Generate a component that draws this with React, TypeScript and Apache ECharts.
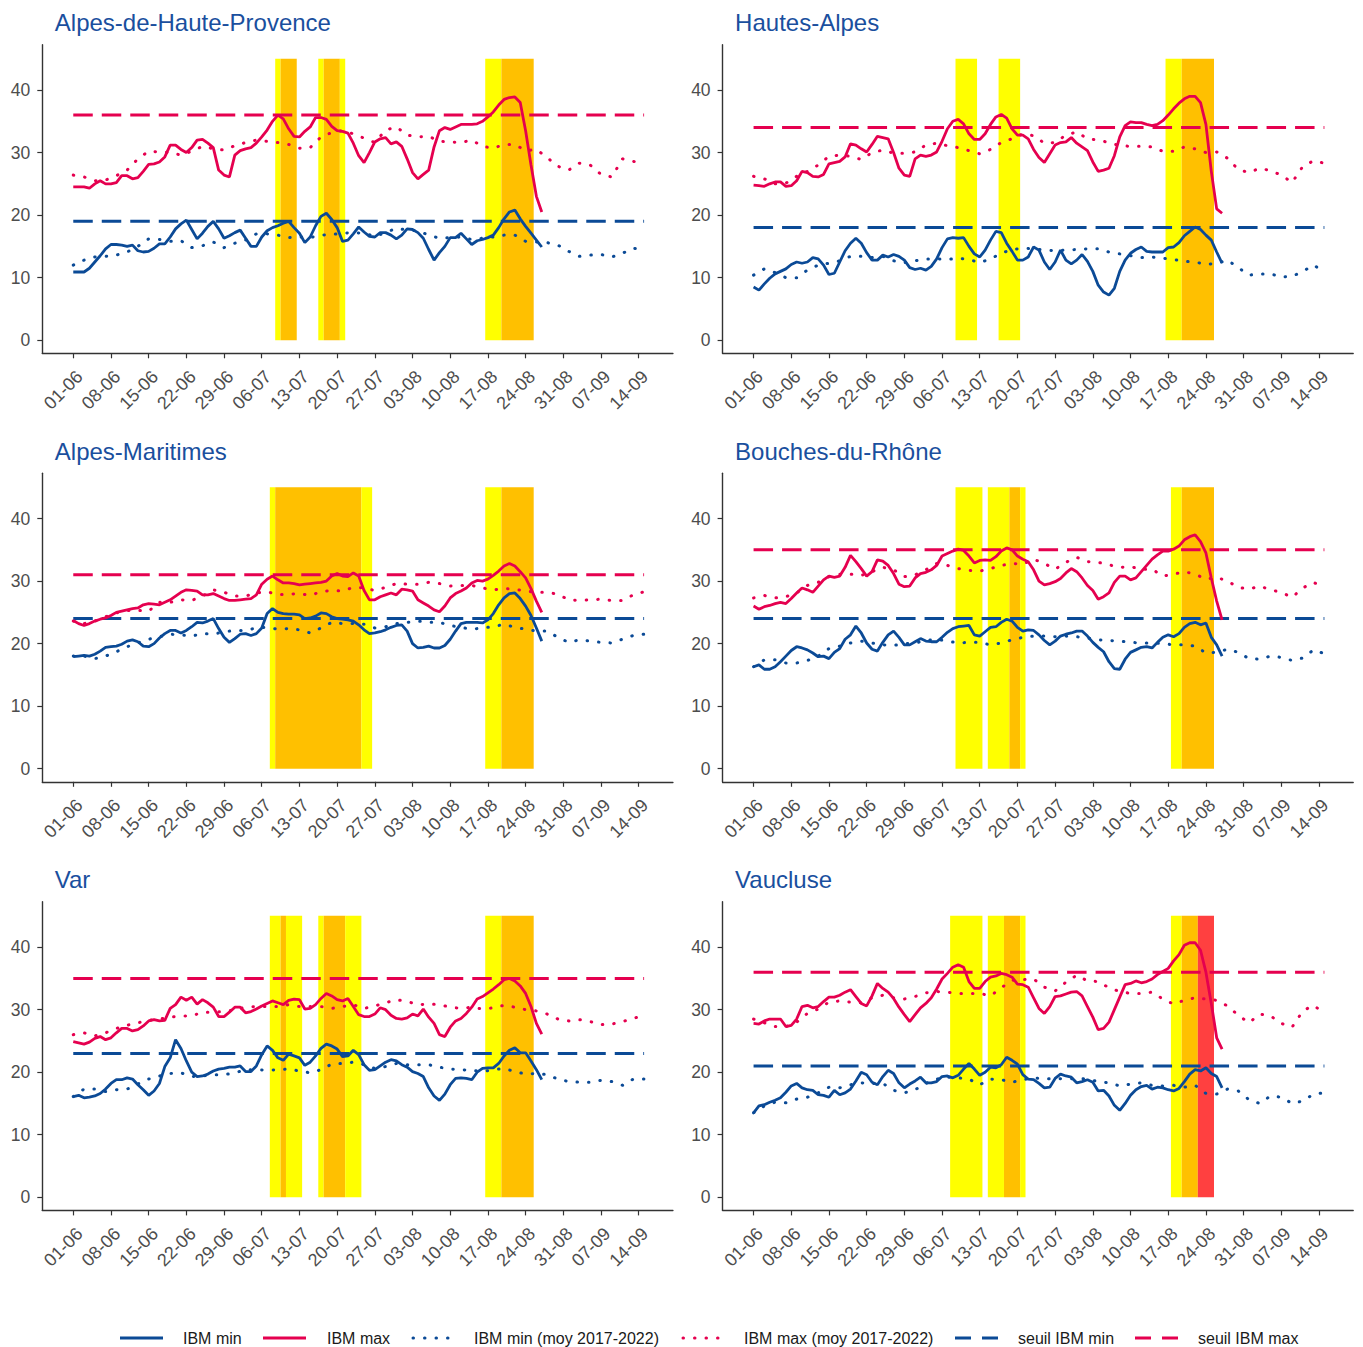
import React, { useEffect, useRef } from "react";
import * as echarts from "echarts";

// ---------- DATA ----------
const departments = ["Alpes-de-Haute-Provence", "Hautes-Alpes", "Alpes-Maritimes", "Bouches-du-Rhône", "Var", "Vaucluse"];
const tickDays = [0, 7, 14, 21, 28, 35, 42, 49, 56, 63, 70, 77, 84, 91, 98, 105];
const tickLabels = ["01-06", "08-06", "15-06", "22-06", "29-06", "06-07", "13-07", "20-07", "27-07", "03-08", "10-08", "17-08", "24-08", "31-08", "07-09", "14-09"];
const yTicks = [0, 10, 20, 30, 40];
const seuilMin = [19, 18, 24, 24, 23, 21];
const seuilMax = [36, 34, 31, 35, 35, 36];
const avgStepDays = 2; // averages read every 2 days, from 01-06
const lastDay = 106; // 15-09
const bandTop = 45;

// IBM daily values from 01-06 (day 0) to 27-08 (day 87)
const ibmMax04 = [
  24.5, 24.5, 24.5, 24.3, 25, 25.5, 25, 25, 25.2, 26.3,
  26.3, 25.8, 26, 27, 28.1, 28.2, 28.5, 29.3, 31.2, 31.2,
  30.5, 30, 30.8, 32, 32.1, 31.5, 30.8, 27.2, 26.4, 26.1,
  29.6, 30.3, 30.6, 30.8, 31.5, 32.5, 33.6, 35, 36, 35.4,
  33.8, 32.6, 32.5, 33.4, 34.1, 35.6, 35.6, 35.3, 34.2, 33.5,
  33.4, 33.1, 31.5, 29.5, 28.4, 30, 31.7, 32.2, 32.4, 31.4,
  31.7, 31, 29, 26.8, 25.8, 26.5, 27.2, 30.9, 33.5, 34,
  33.7, 34.1, 34.5, 34.5, 34.5, 34.6, 35, 35.7, 36.5, 37.6,
  38.5, 38.8, 38.9, 38, 33.5, 28, 23, 20.5,
];
const ibmMin04 = [
  10.9, 10.9, 10.9, 11.5, 12.5, 13.5, 14.6, 15.3, 15.3, 15.2,
  15, 15.2, 14.3, 14.1, 14.2, 14.7, 15.4, 15.4, 16.5, 17.8,
  18.6, 19.2, 17.7, 16.2, 17.1, 18.2, 19, 17.8, 16.3, 16.7,
  17.2, 17.6, 16.3, 15, 15, 16.5, 17.5, 18, 18.3, 18.7,
  19, 18, 17.1, 15.6, 16.5, 18.3, 19.8, 20.3, 19.3, 18,
  15.8, 16, 17, 18.1, 17.3, 16.6, 16.5, 17.2, 17.2, 16.8,
  16.2, 16.8, 17.8, 17.7, 17.2, 16.3, 14.5, 12.8, 14, 15,
  16.4, 16.4, 17.1, 16.2, 15.3, 15.9, 16.1, 16.4, 16.8, 18,
  19.4, 20.5, 20.8, 19.4, 18.2, 17.1, 16, 14.9,
];
const moyMax04 = [26.4, 26.1, 25.5, 25.6, 26.3, 27.2, 29, 30.2, 30.1, 30, 29.6, 30.2, 31, 30.6, 30.4, 31.1, 31.6, 32, 31.8, 31.6, 31.3, 30.7, 30.8, 32.5, 33.2, 33.5, 33, 32.3, 31.6, 33.6, 34.1, 32.8, 32.5, 32.6, 31.8, 31.7, 31.6, 32, 31, 30.7, 31.3, 31.3, 30.3, 30.5, 29.2, 27.8, 27.2, 28.3, 28, 26.5, 26.1, 29, 28.6, 28.1];
const moyMin04 = [12, 12.8, 13.3, 13.4, 13.6, 14.1, 15, 16.2, 16.1, 15.8, 15.9, 14.8, 15.1, 15.7, 14.8, 15.5, 16, 17, 17, 16.8, 16.4, 16.5, 16.4, 16.8, 16.9, 17.1, 17.2, 17.1, 16.6, 17.2, 17.9, 17.6, 17.5, 16.8, 16.3, 16.4, 16.5, 16.1, 16.3, 16.5, 16.8, 16.8, 15.8, 15.7, 15.6, 15.2, 14.2, 13.4, 13.6, 13.7, 13.3, 13.9, 14.7, 14.5];

const ibmMax05 = [
  24.8, 24.7, 24.6, 25, 25.3, 25.3, 24.6, 24.7, 25.5, 27,
  26.8, 26.2, 26.1, 26.5, 28.2, 28.4, 28.6, 29.3, 31.4, 31.2,
  30.6, 30.1, 31.3, 32.6, 32.4, 32.2, 30, 27.5, 26.4, 26.2,
  29, 29.6, 29.4, 29.6, 30.1, 31.8, 33.8, 35, 35.3, 34.6,
  33, 32.1, 32.1, 33, 34.5, 35.7, 36.1, 35.5, 33.8, 32.8,
  32.8, 32.2, 30.5, 29.2, 28.4, 29.8, 31.2, 31.6, 31.7, 32.4,
  31.5, 30.9, 30.3, 28.5, 27, 27.2, 27.5, 29.5, 32.5, 34.3,
  34.9, 34.8, 34.8, 34.5, 34.3, 34.5, 35.1, 36, 37, 37.9,
  38.6, 39, 39, 38, 34.5, 27, 21, 20.3,
];
const ibmMin05 = [
  8.5, 8, 9, 9.9, 10.6, 11, 11.4, 12.1, 12.5, 12.3,
  12.5, 13.2, 13, 12, 10.5, 10.7, 12.5, 14.3, 15.5, 16.3,
  15.5, 14, 12.8, 12.8, 13.6, 13.3, 13.7, 13.4, 12.8, 11.6,
  11.3, 11.5, 11.2, 11.8, 13, 14.8, 16.2, 16.4, 16.3, 16.4,
  15, 13.8, 13.3, 14.4, 16, 17.4, 17.2, 15.5, 14.2, 12.8,
  12.8, 13.3, 14.9, 14.4, 12.5, 11.3, 12.5, 14.4, 12.8, 12.2,
  12.8, 13.7, 12.6, 11, 8.8, 7.7, 7.2, 8.3, 11, 12.8,
  13.9, 14.5, 14.9, 14.2, 14.1, 14.1, 14.1, 14.8, 14.9, 15.6,
  16.7, 17.4, 18.1, 17.7, 16.8, 16, 14.1, 12.3,
];
const moyMax05 = [26.2, 25.8, 25, 25.1, 26.2, 27, 28, 29.4, 29.6, 29.4, 28.9, 30, 30.4, 29.9, 29.9, 30.1, 31.2, 31.5, 31.1, 30.8, 30.3, 29.8, 30.5, 31.6, 32.2, 33, 32.7, 31.5, 31.6, 32.8, 33.3, 32.2, 32, 31.6, 31.1, 31, 31, 30.9, 30.2, 30.2, 30.9, 30.6, 30, 30.1, 29.1, 27.3, 26.8, 27.5, 27.1, 26.4, 25.2, 27.8, 28.7, 28.3];
const moyMin05 = [10.4, 11.4, 10.8, 10, 10, 11.2, 12, 12.3, 12.7, 13.4, 13.4, 13.2, 13.4, 12.7, 12.4, 12.7, 13, 13, 12.9, 13.1, 12.9, 12.4, 13, 13.9, 14.5, 14.7, 14.6, 14.4, 14.3, 14.4, 14.5, 14.6, 14.6, 14.1, 13.8, 13.5, 13.2, 13.3, 13.1, 12.9, 12.6, 12.5, 12.1, 12.3, 12.8, 11.6, 10.4, 10.6, 10.6, 10.1, 10.2, 11, 12, 10.9];

const ibmMax06 = [
  23.7, 23.2, 22.9, 23.2, 23.6, 23.9, 24.1, 24.5, 25, 25.2,
  25.4, 25.6, 25.7, 26.2, 26.4, 26.3, 26.2, 26.6, 27, 27.6,
  28.2, 28.6, 28.5, 28.4, 27.8, 27.8, 28, 27.6, 27.2, 26.9,
  26.9, 27, 27.1, 27.2, 27.8, 29.5, 30.3, 30.8, 30.2, 29.7,
  29.7, 29.6, 29.4, 29.5, 29.6, 29.7, 29.8, 30, 30.8, 31.2,
  30.8, 30.7, 31.3, 30.8, 28.5, 27, 27, 27.5, 27.8, 28.1,
  27.8, 28.7, 28.6, 28.4, 27, 26.5, 26, 25.4, 25.1, 26,
  27.3, 28, 28.4, 28.9, 29.7, 30.1, 30, 30.3, 30.9, 31.6,
  32.4, 32.8, 32.4, 31.5, 30.5, 28.8, 26.8, 25,
];
const ibmMin06 = [
  17.9, 18, 18.1, 18, 18.3, 18.8, 19.4, 19.5, 19.6, 19.9,
  20.4, 20.6, 20.3, 19.6, 19.5, 20, 20.9, 21.6, 22.1, 22.1,
  21.7, 22.1, 22.7, 23.4, 23.3, 23.6, 24, 22.4, 21, 20.2,
  20.8, 21.5, 21.6, 21.3, 21.6, 22.5, 24.8, 25.6, 25, 24.8,
  24.7, 24.7, 24.6, 24, 24.1, 24.4, 24.9, 24.8, 24.3, 24,
  23.9, 23.8, 23.6, 23, 22.2, 21.6, 21.7, 21.9, 22.2, 22.6,
  22.9, 23, 22, 20, 19.3, 19.4, 19.6, 19.3, 19.3, 19.7,
  20.7, 22, 23.2, 23.4, 23.4, 23.4, 23.3, 23.8, 24.8, 26.2,
  27.3, 28, 28.1, 27.2, 26, 24.5, 22.5, 20.4,
];
const moyMax06 = [23.6, 23.2, 23.6, 24.3, 24.9, 25.3, 25.3, 25.2, 26.6, 26.6, 27, 26.9, 27.6, 28.6, 28.2, 27.6, 27.6, 28.1, 28.3, 27.8, 27.9, 28, 27.7, 28.3, 28.5, 28.4, 29, 28.9, 28.5, 29, 29.6, 29.5, 29.5, 29.8, 29.6, 29.2, 29.3, 29.3, 28.9, 28.6, 28.8, 28.7, 28.4, 28.2, 28.2, 27.9, 27, 26.9, 27, 27.1, 26.9, 26.9, 27.8, 28.3];
const moyMin06 = [18, 18, 17.6, 18, 18.7, 19.5, 20.1, 20.7, 21.1, 21.5, 21.4, 21.2, 21.6, 21.5, 21.9, 22.1, 22.1, 22.5, 22.6, 22.3, 22.4, 22.2, 21.7, 22.5, 23.4, 23.2, 23.2, 23.1, 22.5, 22.7, 23.2, 23.4, 23.6, 23.4, 23.4, 22.9, 22.6, 22.3, 22.5, 22.7, 23.1, 22.6, 22.3, 22, 22, 21, 20.2, 20.6, 20.4, 20.2, 20.1, 20.7, 21.3, 21.5];

const ibmMax13 = [
  26, 25.5, 25.9, 26.1, 26.4, 26.6, 26.4, 27.2, 28.1, 28.9,
  28.6, 28.2, 29.2, 30.2, 30.8, 30.6, 30.8, 32.2, 34.1, 33.1,
  32, 30.8, 31.5, 33.4, 33.2, 32.5, 31.2, 29.5, 29.1, 29.2,
  30.5, 31.2, 31.4, 31.8, 32.5, 34, 34.4, 34.8, 35.1, 34.9,
  34, 32.9, 33.3, 33.4, 33.3, 33.9, 34.8, 35.3, 35, 34,
  33.5, 33.1, 31.8, 30, 29.4, 29.6, 29.9, 30.4, 31.3, 32,
  31.5, 30.5, 29.3, 28.5, 27.1, 27.5, 28.1, 29.8, 30.8, 30.8,
  30.2, 30.5, 31.5, 32.5, 33.5, 34.2, 34.8, 34.8, 35.1, 35.6,
  36.6, 37.1, 37.4, 36.3, 34.5, 30.5, 26.8, 23.8,
];
const ibmMin13 = [
  16.3, 16.6, 15.9, 15.9, 16.3, 17.1, 18, 18.9, 19.5, 19.3,
  19, 18.5, 17.9, 18, 17.6, 18.6, 19.2, 20.7, 21.4, 22.8,
  21.7, 20.1, 19.1, 18.8, 20.2, 21.4, 22, 21, 19.8, 19.8,
  20.3, 20.8, 20.4, 20.3, 20.3, 21, 21.8, 22.4, 22.7, 22.8,
  22.9, 21.4, 21.2, 21.9, 22.6, 22.7, 23.4, 23.9, 23.6, 22.6,
  22, 22.2, 22.1, 21.4, 20.5, 19.8, 20.4, 21.2, 21.5, 21.7,
  22, 22, 21.2, 20.2, 19.4, 18.7, 17.1, 16, 15.9, 17.5,
  18.6, 19, 19.4, 19.5, 19.3, 20.2, 21, 21.4, 21.1, 21.6,
  22.6, 23.2, 23.4, 23, 23.3, 21, 19.8, 18,
];
const moyMax13 = [27.3, 27.7, 27.3, 27.5, 28.1, 29.3, 29.8, 30.7, 31.1, 31.1, 30.9, 31.5, 32.2, 31.8, 30.7, 31, 31.8, 32.8, 32.5, 32, 31.7, 31.6, 32, 32.5, 32.8, 32.7, 33.5, 32.8, 31.9, 33, 33.8, 33.1, 33, 32.6, 32.2, 32.3, 31.9, 31.9, 30.8, 31.1, 31.5, 31.1, 30.3, 30.6, 30, 29, 28.7, 29.2, 28.6, 28.2, 27.4, 28.9, 29.8, 28.9];
const moyMin13 = [16.3, 17.4, 17.4, 16.9, 16.9, 17.3, 18, 19.2, 19.6, 20.1, 20.4, 20.1, 19.8, 19.7, 20, 20.1, 20.5, 20.7, 20.4, 20.1, 20.2, 20.2, 19.8, 20.1, 20.6, 21, 21.2, 21.2, 21.1, 21.2, 21.1, 20.9, 20.6, 20.5, 20.4, 20.2, 20.1, 20.1, 20, 19.8, 19.8, 19.6, 18.5, 18.6, 19.1, 18.6, 17.6, 17.5, 18, 17.8, 17.3, 17.7, 19, 18.4];

const ibmMax83 = [
  24.9, 24.7, 24.5, 24.8, 25.4, 25.7, 25.2, 25.5, 26.3, 27,
  27, 26.6, 26.8, 27.4, 28.2, 28.4, 28.2, 28.3, 30.2, 30.8,
  32, 31.5, 32, 30.9, 31.6, 31.1, 30.4, 28.9, 28.9, 29.6,
  30.4, 30.4, 29.5, 29.7, 30.1, 30.6, 31, 31.4, 31.1, 30.8,
  31.5, 31.7, 31.6, 30.1, 30.2, 30.8, 31.8, 32.6, 32.2, 31.6,
  31.4, 31.8, 30.5, 29.2, 28.9, 28.9, 29.3, 30.3, 30, 29.1,
  28.6, 28.5, 28.7, 29.3, 29, 30.1, 28.8, 27.8, 26, 25.7,
  27.2, 28.2, 28.6, 29.4, 30.4, 31.7, 32.1, 32.7, 33.3, 34,
  34.8, 35, 34.6, 33.8, 32.6, 30.5, 27.8, 26.1,
];
const ibmMin83 = [
  16.1, 16.3, 15.9, 16, 16.2, 16.6, 17.3, 18.2, 18.8, 18.8,
  19.1, 18.9, 18, 17.2, 16.3, 17, 18.2, 20.9, 22.3, 25.2,
  23.8, 21.8, 20, 19.3, 19.4, 19.7, 20.2, 20.5, 20.6, 20.8,
  20.8, 21, 20.1, 20.1, 21, 22.8, 24.2, 23.5, 22.3, 21.9,
  22.9, 22.6, 22.3, 21.1, 21.6, 22.6, 23.8, 24.5, 24.2, 23.7,
  22.5, 22.6, 23.5, 22.8, 21.2, 20.3, 20.4, 21, 21.6, 22,
  21.8, 21.2, 20.8, 20.1, 19.8, 19.3, 17.5, 16.2, 15.5, 16.5,
  18, 19, 19.1, 19, 18.8, 20, 20.6, 20.7, 20.7, 21.4,
  22.6, 23.5, 23.9, 23.1, 23.1, 21.8, 20.4, 18.8,
];
const moyMax83 = [26, 26.3, 25.8, 26.3, 27, 27.5, 27.9, 28.3, 28.5, 28.8, 29, 29, 29.6, 29.6, 29.7, 30, 30.4, 30.5, 30.5, 30.5, 30.8, 30.5, 30.5, 30.5, 30.2, 30.5, 30.8, 30.2, 30.6, 31.1, 31.6, 31.3, 30.8, 30.9, 30.8, 30.4, 30.2, 30.4, 30.1, 30.3, 30.7, 30.4, 30, 29.8, 29.3, 28.5, 28.2, 28.4, 28.1, 27.6, 27.7, 28.1, 28.6, 29.1];
const moyMin83 = [16.1, 17.3, 17.3, 16.9, 17.2, 17.3, 18.1, 18.9, 19.4, 19.8, 19.9, 19.3, 19.4, 19.6, 19.6, 19.9, 20.4, 20.4, 20.3, 20.4, 20.5, 20.2, 19.9, 20.4, 21.3, 21.4, 21.6, 21.2, 20.6, 20.9, 21.4, 21.2, 21.2, 21.2, 20.8, 20.5, 20.4, 20.3, 20.1, 20.4, 20.6, 20.1, 19.7, 19.8, 19.6, 18.9, 18.5, 18.4, 18.4, 18.7, 18.5, 17.9, 18.9, 18.9];

const ibmMax84 = [
  27.8, 27.7, 28.2, 28.5, 28.5, 28.5, 27.3, 27.5, 28.5, 30.5,
  30.7, 30.3, 30.5, 31.3, 32, 32, 32.3, 32.8, 33.2, 32.1,
  31, 30.6, 32.2, 34.2, 33.4, 32.8, 31.8, 30.4, 29.2, 28.1,
  29.2, 30.3, 31, 31.9, 33.3, 34.9, 35.8, 36.8, 37.2, 36.8,
  34.5, 33.4, 33.4, 34.5, 35.2, 35.4, 35.8, 35.6, 35.2, 34.1,
  34, 33.6, 31.9, 30.2, 29.4, 30.5, 32.1, 32.2, 32.5, 32.8,
  32.9, 32.2, 30.5, 28.8, 26.8, 27, 28, 30, 32, 34,
  34.2, 34.6, 34.3, 34.5, 34.9, 35.6, 36.1, 36.6, 37.8, 38.8,
  40.3, 40.7, 40.7, 39.5, 36, 31, 25.5, 23.7,
];
const ibmMin84 = [
  13.5, 14.6, 14.8, 15.2, 15.5, 15.9, 16.8, 17.8, 18.2, 17.5,
  17.2, 17.1, 16.4, 16.3, 16, 17.1, 16.4, 16.7, 17.3, 18.6,
  20, 19.6, 18.4, 18, 19.3, 20.3, 19.8, 18.3, 17.5, 18.1,
  18.6, 19.2, 18.3, 18.3, 18.5, 19.3, 19.4, 19.1, 19.5, 20.5,
  21.4, 20.5, 19.5, 20, 20.8, 20.7, 21.2, 22.4, 21.9, 21.3,
  19.6, 18.9, 18.8, 18.2, 17.5, 17.6, 19, 19.7, 19.4, 19.2,
  18.3, 18.5, 18.8, 18.4, 17, 17.1, 16.2, 14.7, 13.9, 15,
  16.3, 17.2, 17.7, 17.9, 17.3, 17.6, 17.5, 17.2, 17, 17.4,
  18.5, 19.7, 20.4, 20.2, 20.7, 19.8, 19.3, 17.5,
];
const moyMax84 = [28.5, 27.9, 27.3, 27.3, 28, 29.4, 30.1, 31.2, 31.4, 31.2, 31.1, 31.9, 32.3, 31.9, 31.7, 32.1, 32.7, 32.9, 32.8, 32.6, 32.6, 32.6, 32.2, 33.5, 34.7, 34.8, 34.9, 33.6, 33, 34.4, 35.5, 34.6, 34.5, 33.5, 32.9, 32.6, 32.6, 32.8, 31.7, 30.9, 31.5, 31.9, 31.7, 31.5, 30.6, 29.1, 27.9, 29.3, 29, 27.8, 27.2, 29.8, 30.7, 29.4];
const moyMin84 = [13.5, 14.6, 15.2, 15.1, 15.7, 16, 16.7, 17.6, 17.5, 18, 18.3, 18.2, 18.2, 17.1, 16.7, 17.2, 18.2, 18.9, 19.2, 19.1, 18.9, 18, 18.9, 18.8, 18.4, 18.8, 19.1, 18.9, 19, 18.9, 19, 18.9, 18.5, 18.3, 17.8, 18.1, 18.3, 17.9, 17.8, 17.9, 17.6, 17.9, 16.6, 16.5, 17.3, 17, 15.6, 15, 16.2, 16, 15, 15.4, 16.5, 16.7];

// vigilance periods: [first day, last day, level] (1 yellow, 2 orange, 3 red)
const vigilance04 = [[38, 38, 1], [39, 41, 2], [46, 46, 1], [47, 49, 2], [50, 50, 1], [77, 79, 1], [80, 85, 2]];
const vigilance05 = [[38, 41, 1], [46, 49, 1], [77, 79, 1], [80, 85, 2]];
const vigilance06 = [[37, 37, 1], [38, 53, 2], [54, 55, 1], [77, 79, 1], [80, 85, 2]];
const vigilance13 = [[38, 42, 1], [44, 47, 1], [48, 49, 2], [50, 50, 1], [78, 79, 1], [80, 85, 2]];
const vigilance83 = [[37, 38, 1], [39, 39, 2], [40, 42, 1], [46, 46, 1], [47, 50, 2], [51, 53, 1], [77, 79, 1], [80, 85, 2]];
const vigilance84 = [[37, 42, 1], [44, 46, 1], [47, 49, 2], [50, 50, 1], [78, 79, 1], [80, 82, 2], [83, 85, 3]];

const legendNames = ["IBM min", "IBM max", "IBM min (moy 2017-2022)", "IBM max (moy 2017-2022)", "seuil IBM min", "seuil IBM max"];

// ---------- STYLE / LAYOUT ----------
const FONT = '"Liberation Sans", Arial, Helvetica, sans-serif';
const BLUE = "#0b4a96";
const RED = "#e5004f";
const TITLE_COLOR = "#1a4f9e";
const AXIS_COLOR = "#333333";
const LABEL_COLOR = "#4d4d4d";
const BAND_COLORS = ["#ffffff", "#ffff00", "#ffc000", "#ff4040"];
const X_MIN = -5.75;
const X_MAX = 111.35;
const Y_MIN = -2.1;
const Y_MAX = 47.25;
const COL_X = [42.3, 722.6];
const ROW_Y = [44.7, 473.2, 901.8];
const GRID_W = 630.6;
const GRID_H = 308.6;
const DOTTED: any = [0.5, 11];
const DASHED: any = [19.5, 9];

const panels = [
  { max: ibmMax04, min: ibmMin04, moyMax: moyMax04, moyMin: moyMin04, bands: vigilance04 },
  { max: ibmMax05, min: ibmMin05, moyMax: moyMax05, moyMin: moyMin05, bands: vigilance05 },
  { max: ibmMax06, min: ibmMin06, moyMax: moyMax06, moyMin: moyMin06, bands: vigilance06 },
  { max: ibmMax13, min: ibmMin13, moyMax: moyMax13, moyMin: moyMin13, bands: vigilance13 },
  { max: ibmMax83, min: ibmMin83, moyMax: moyMax83, moyMin: moyMin83, bands: vigilance83 },
  { max: ibmMax84, min: ibmMin84, moyMax: moyMax84, moyMin: moyMin84, bands: vigilance84 },
];

function buildOption() {
  const titles: any[] = [];
  const grids: any[] = [];
  const xAxes: any[] = [];
  const yAxes: any[] = [];
  const series: any[] = [];

  panels.forEach((p, i) => {
    const gx = COL_X[i % 2];
    const gy = ROW_Y[Math.floor(i / 2)];
    titles.push({
      text: departments[i],
      left: gx + 12.5,
      top: gy - 34,
      padding: 0,
      textStyle: { fontFamily: FONT, fontSize: 24, fontWeight: "normal", color: TITLE_COLOR },
    });
    grids.push({ left: gx, top: gy, width: GRID_W, height: GRID_H, containLabel: false, outerBoundsMode: "none" });
    xAxes.push({
      gridIndex: i,
      type: "value",
      min: X_MIN,
      max: X_MAX,
      splitLine: { show: false },
      axisLine: { show: true, onZero: false, lineStyle: { color: AXIS_COLOR, width: 1.4 } },
      axisTick: { show: true, customValues: tickDays, length: 5, lineStyle: { color: AXIS_COLOR, width: 1.2 } },
      axisLabel: {
        customValues: tickDays,
        rotate: 45,
        margin: 14,
        align: "right",
        verticalAlign: "top",
        fontSize: 18,
        fontFamily: FONT,
        color: LABEL_COLOR,
        formatter: (v: number) => tickLabels[tickDays.indexOf(Math.round(v))] ?? "",
      },
    });
    yAxes.push({
      gridIndex: i,
      type: "value",
      min: Y_MIN,
      max: Y_MAX,
      splitLine: { show: false },
      axisLine: { show: true, onZero: false, lineStyle: { color: AXIS_COLOR, width: 1.4 } },
      axisTick: { show: true, customValues: yTicks, length: 5, lineStyle: { color: AXIS_COLOR, width: 1.2 } },
      axisLabel: { customValues: yTicks, margin: 12, fontSize: 17.5, fontFamily: FONT, color: LABEL_COLOR },
    });

    series.push({
      type: "custom",
      name: "vigilance",
      xAxisIndex: i,
      yAxisIndex: i,
      silent: true,
      z: 1,
      data: p.bands.map((b) => [b[0] - 0.5, b[1] + 0.5, b[2]]),
      encode: { x: [0, 1] },
      renderItem: (_params: any, api: any) => {
        const a = api.coord([api.value(0), bandTop]);
        const b = api.coord([api.value(1), 0]);
        return {
          type: "rect",
          shape: { x: a[0], y: a[1], width: b[0] - a[0], height: b[1] - a[1] },
          style: { fill: BAND_COLORS[api.value(2)] },
        };
      },
    });

    const line = (name: string, data: number[][], color: string, type: any, width: number, z: number) => ({
      type: "line",
      name,
      xAxisIndex: i,
      yAxisIndex: i,
      data,
      symbol: "none",
      showSymbol: false,
      silent: true,
      z,
      lineStyle: { color, width, type, cap: type === DOTTED ? "round" : "butt" },
    });

    series.push(line(legendNames[2], p.moyMin.map((v, k) => [k * avgStepDays, v]), BLUE, DOTTED, 3, 2));
    series.push(line(legendNames[3], p.moyMax.map((v, k) => [k * avgStepDays, v]), RED, DOTTED, 3, 2));
    series.push(line(legendNames[4], [[0, seuilMin[i]], [lastDay, seuilMin[i]]], BLUE, DASHED, 3, 3));
    series.push(line(legendNames[5], [[0, seuilMax[i]], [lastDay, seuilMax[i]]], RED, DASHED, 3, 3));
    series.push(line(legendNames[0], p.min.map((v, k) => [k, v]), BLUE, "solid", 2.8, 4));
    series.push(line(legendNames[1], p.max.map((v, k) => [k, v]), RED, "solid", 2.8, 4));
  });

  // legend drawn as graphic elements
  const LEG_Y = 1338;
  const legendItems = [
    { x: 120, tx: 183, color: BLUE, dash: null as any, cap: "butt" },
    { x: 263, tx: 327, color: RED, dash: null as any, cap: "butt" },
    { x: 413, tx: 474, color: BLUE, dash: [0.5, 11], cap: "round" },
    { x: 683, tx: 744, color: RED, dash: [0.5, 11], cap: "round" },
    { x: 955, tx: 1018, color: BLUE, dash: [16, 11], cap: "butt" },
    { x: 1135, tx: 1198, color: RED, dash: [16, 11], cap: "butt" },
  ];
  const graphic: any[] = [];
  legendItems.forEach((it, k) => {
    const len = it.dash && it.dash[0] < 1 ? 35 : 43;
    graphic.push({
      type: "line",
      shape: { x1: it.x, y1: LEG_Y, x2: it.x + len, y2: LEG_Y },
      style: { stroke: it.color, lineWidth: 3, lineDash: it.dash || undefined, lineCap: it.cap },
      silent: true,
    });
    graphic.push({
      type: "text",
      x: it.tx,
      y: LEG_Y,
      style: { text: legendNames[k], fontSize: 16, fontFamily: FONT, fill: "#1a1a1a", verticalAlign: "middle", align: "left" },
      silent: true,
    });
  });

  return {
    animation: false,
    backgroundColor: "#ffffff",
    textStyle: { fontFamily: FONT },
    title: titles,
    grid: grids,
    xAxis: xAxes,
    yAxis: yAxes,
    series,
    graphic,
  };
}

export default function App() {
  const ref = useRef<HTMLDivElement>(null);
  useEffect(() => {
    if (!ref.current) return;
    const chart = echarts.init(ref.current, undefined, { renderer: "svg" });
    chart.setOption(buildOption() as any);
    return () => chart.dispose();
  }, []);
  return <div ref={ref} style={{ position: "fixed", left: 0, top: 0, width: 1363, height: 1347, background: "#fff" }} />;
}
